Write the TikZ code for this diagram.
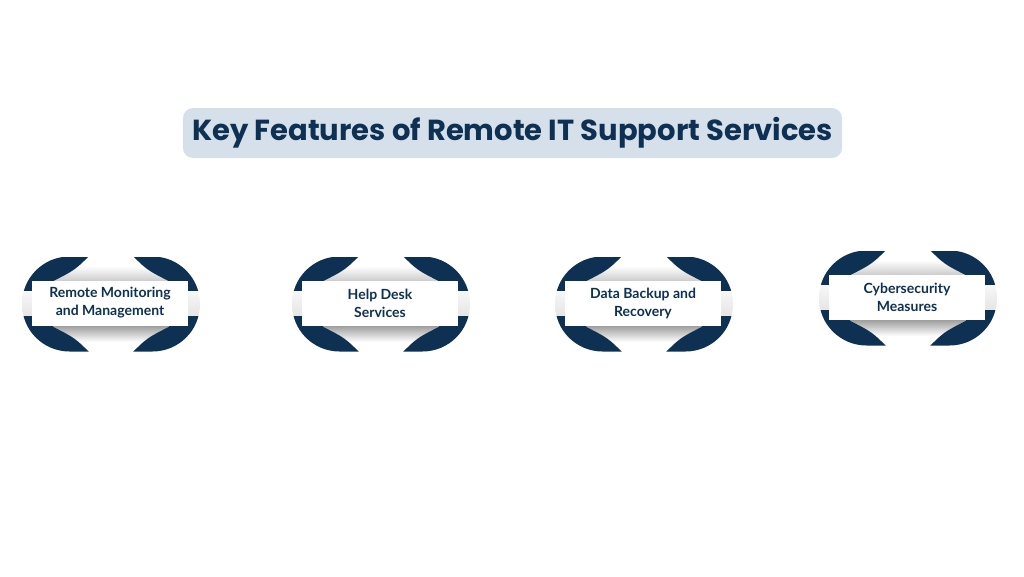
\documentclass[tikz,border=0pt]{standalone}
\usepackage{fontspec}
\setmainfont{Lato}
\newfontfamily\titlefont{Poppins}
\definecolor{navy}{HTML}{0E3052}
\definecolor{titlebg}{HTML}{D6E0EA}
\def\pillw{89}
\def\pillh{47.5}
\def\bandh{12.5}
\tikzset{
    label box/.style={fill=white, minimum width=156pt, minimum height=45pt, align=center,
        text=navy, font=\bfseries\fontsize{14}{18}\selectfont},
    title box/.style={fill=titlebg, rounded corners=10pt, minimum width=659pt, minimum height=50pt,
        text=navy, font=\titlefont\bfseries\fontsize{29}{29}\selectfont}
}
\newcommand{\feature}[4]{
    \begin{scope}
        \clip[rounded corners=\pillh pt] (#2-\pillw, #3-\pillh) rectangle (#2+\pillw, #3+\pillh);
        \shade[top color=white, bottom color=black!20] (#2-\pillw, #3-38) rectangle (#2+\pillw, #3-23);
        \shade[top color=black!3, bottom color=black!10] (#2-\pillw, #3-\bandh-1) rectangle (#2+\pillw, #3+\bandh-1);
        \shade[top color=black!40, bottom color=white] (#2-\pillw, #3+21) rectangle (#2+\pillw, #3+38);
        \begin{scope}[even odd rule]
            \clip (#2-\pillw-5, #3-\pillh-5) rectangle (#2+\pillw+5, #3+\pillh+5)
                (#2-18, #3-52) .. controls (#2-35.6, #3-34.2) .. (#2-58, #3-22.8) -- (#2-58, #3+22.8)
                .. controls (#2-35.6, #3+34.2) .. (#2-18, #3+52) -- (#2+18, #3+52)
                .. controls (#2+35.6, #3+34.2) .. (#2+58, #3+22.8) -- (#2+58, #3-22.8)
                .. controls (#2+35.6, #3-34.2) .. (#2+18, #3-52) -- cycle;
            \fill[navy] (#2-\pillw, #3-\pillh) rectangle (#2+\pillw, #3-\bandh-1);
            \fill[navy] (#2-\pillw, #3+\bandh-1) rectangle (#2+\pillw, #3+\pillh);
        \end{scope}
    \end{scope}
    \node[label box] (#1) at (#2-1, #3-1) {#4};
}

\begin{document}
\begin{tikzpicture}[x=1pt, y=-1pt]
    \useasboundingbox[fill=white] (0,0) rectangle (1024,576);
    \node[title box] (title) at (512.5,133) {Key Features of Remote IT Support Services};
    \feature{rmm}{111}{304}{Remote Monitoring\\and Management}
    \feature{helpdesk}{381}{304}{Help Desk\\Services}
    \feature{backup}{644}{304}{Data Backup and\\Recovery}
    \feature{security}{908}{298}{Cybersecurity\\Measures}
\end{tikzpicture}
\end{document}
